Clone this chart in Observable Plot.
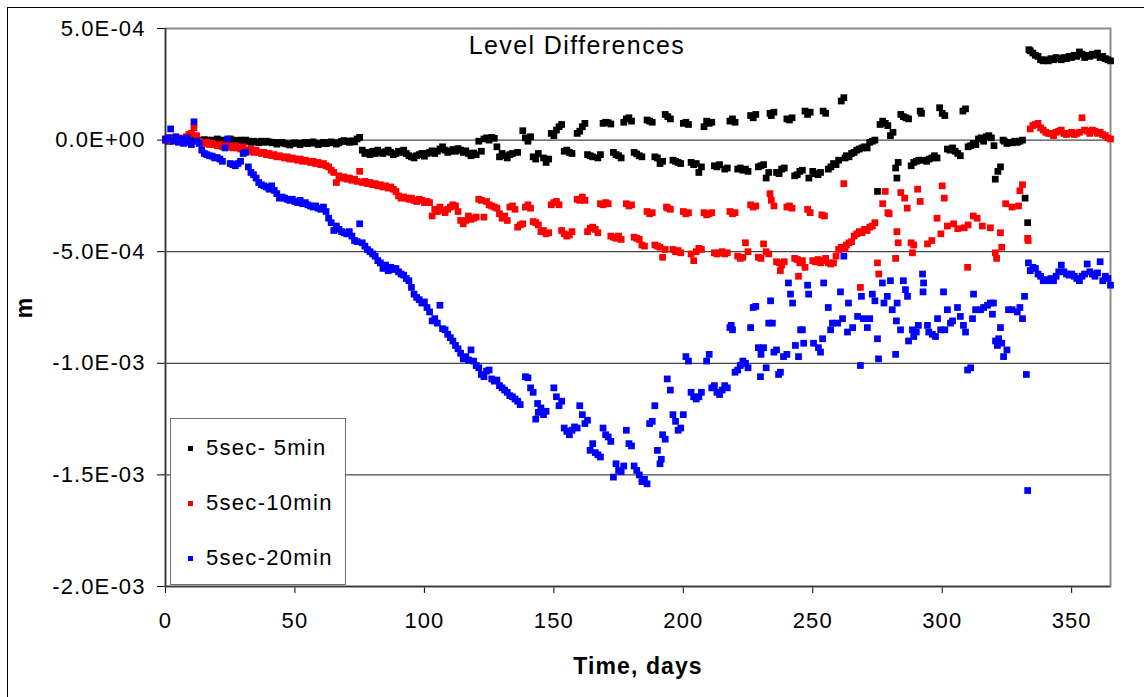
<!DOCTYPE html>
<html><head><meta charset="utf-8">
<script src="https://cdn.jsdelivr.net/npm/d3@7"></script>
<script src="https://cdn.jsdelivr.net/npm/@observablehq/plot@0.6"></script>
<style>
html,body{margin:0;padding:0;background:#fff;overflow:hidden;}
#wrap{position:relative;width:1144px;height:697px;font-family:Arial,"Liberation Sans",sans-serif;color:#000;overflow:hidden;}
#border{position:absolute;left:7px;top:7px;width:1300px;height:900px;border:1.5px solid #000;}
#chart{position:absolute;left:0;top:0;}
#chart svg text{letter-spacing:1.1px;}
#chart g[aria-label="x-axis label"] text,#chart g[aria-label="y-axis label"] text{font-weight:bold;font-size:23px;}
#title{position:absolute;top:33px;left:577px;transform:translateX(-50%);font-size:25px;line-height:25px;letter-spacing:1.4px;white-space:nowrap;}
#legend{position:absolute;left:170px;top:418px;width:176px;height:167px;border:1.5px solid #6e6e6e;background:#fff;box-sizing:border-box;}
.row{position:absolute;left:0;height:30px;display:flex;align-items:center;}
.mk{width:5px;height:5px;margin-left:17px;margin-right:13px;}
.lt{font-size:22px;line-height:30px;letter-spacing:1.3px;white-space:pre;}
</style></head>
<body>
<div id="wrap">
<div id="border"></div>
<div id="chart"></div>
<div id="title"></div>
<div id="legend"></div>
</div>
<script>
// values: [day, level difference in units of 1e-4 m]
const series5min = [
[0,0.05],[1,-0.05],[2,0.1],[3,0],[4,0.05],[5,-0.05],[6,0],[7,0.08],[8,-0.02],[9,0.05],[10,0],[11,0.02],[12,0.05],[13,0],[14,-0.05],[15,0.02],[16,0],[17,-0.05],[18,0],[19,-0.03],[20,0.05],[21,-0.05],[22,0],[23,-0.08],[24,-0.02],[25,0.05],[26,0],[27,-0.05],[28,-0.02],[29,0],[30,-0.08],[31,0],[32,-0.05],[33,-0.1],[34,-0.05],[35,-0.08],[36,-0.12],[37,-0.05],[38,-0.1],[39,-0.05],[40,-0.08],[41,-0.12],[42,-0.1],[43,-0.18],[44,-0.12],[45,-0.1],[46,-0.15],[47,-0.18],[48,-0.22],[49,-0.15],[50,-0.12],[51,-0.15],[52,-0.2],[53,-0.14],[54,-0.1],[55,-0.16],[56,-0.12],[57,-0.08],[58,-0.14],[59,-0.2],[60,-0.15],[61,-0.1],[62,-0.16],[63,-0.12],[64,-0.08],[65,-0.12],[66,-0.18],[67,-0.12],[68,-0.06],[69,-0.02],[70,-0.06],[71,-0.1],[72,-0.03],[73,-0.08],[74,0.05],[75,0.12],
[76,-0.45],[77,-0.6],[78,-0.55],[79,-0.65],[80,-0.5],[81,-0.6],[82,-0.45],[83,-0.55],[84,-0.6],[85,-0.52],[86,-0.45],[87,-0.55],[88,-0.65],[89,-0.6],[90,-0.5],[91,-0.55],[92,-0.45],[93,-0.6],[94,-0.7],[95,-0.75],[96,-0.8],[97,-0.7],[98,-0.65],[99,-0.6],[100,-0.72],[101,-0.6],[102,-0.55],[103,-0.48],[104,-0.6],[105,-0.5],[106,-0.4],[107,-0.3],[108,-0.45],[109,-0.55],[110,-0.5],[111,-0.42],[112,-0.5],[113,-0.38],[114,-0.45],[115,-0.55],[116,-0.48],[117,-0.6],[118,-0.7],[119,-0.58],[120,-0.65],[121,-0.05],[122,-0.5],
[123,0.05],[124,0.1],[125,0.0],[126,0.12],[127,0.08],[128,-0.3],[129,-0.75],[130,-0.6],[131,-0.7],[132,-0.8],[133,-0.65],[134,-0.6],[136,-0.55],[138,0.42],[139,0.1],[140,-0.05],[141,0.15],[142,-0.75],[143,-0.85],[144,-0.6],[146,-0.8],[147,-1.0],[148,-0.85],
[149,0.3],[150,0.2],[151,0.45],[152,0.6],[153,0.7],[154,-0.5],[155,-0.45],[156,-0.55],[157,-0.6],
[159,0.3],[160,0.4],[161,0.6],[162,0.75],[163,-0.65],[164,-0.7],[165,-0.75],[167,-0.8],[168,-0.65],
[169,0.75],[170,0.8],[171,0.78],[172,0.72],[173,-0.55],[174,-0.65],[175,-0.7],[176,-0.8],
[177,0.8],[178,0.95],[179,1.0],[180,0.85],[181,-0.55],[182,-0.62],[183,-0.7],[184,-0.75],
[186,0.9],[187,0.85],[188,0.8],[189,-0.75],[190,-0.8],[191,-1.05],[192,-0.95],
[193,1.15],[194,1.05],[195,0.95],[196,-0.9],[197,-0.95],[198,-1.0],[199,-1.05],
[200,0.75],[201,0.8],[202,0.7],[203,-1.0],[204,-1.1],[205,-1.05],[206,-1.45],[207,-1.2],
[208,0.6],[209,0.85],[210,0.75],[211,0.8],[212,-1.15],[213,-1.2],[214,-1.1],[216,-1.3],[217,-1.25],
[218,0.85],[219,0.95],[220,0.8],[221,-1.3],[222,-1.25],[223,-1.35],[224,-1.3],[225,-1.4],
[226,1.1],[227,1.0],[228,1.15],[229,-1.2],[230,-1.15],[231,-1.1],[232,-1.7],[233,-1.45],
[233.5,1.2],[234,1.1],[235,1.25],[236,-1.45],[237,-1.5],[238,-1.3],[239,-1.25],
[240,0.95],[241,0.9],[242,1.0],[243,-1.6],[244,-1.55],[245,-1.4],[246,-1.35],
[247,1.3],[248,1.15],[249,1.25],[248.5,-1.7],[250,-1.4],[251,-1.5],[252,-1.55],[253,-1.45],
[254,1.3],[255,1.2],[256,-1.3],[257,-1.2],[258,-1.05],[259,-1.1],[260,-0.9],
[261,1.75],[262,1.9],[262.5,-0.8],[263,-0.7],[264,-0.75],[265,-0.6],[266,-0.55],[267,-0.45],[268,-0.4],[269,-0.35],[270,-0.3],[271,-0.35],[272,-0.1],[273,-0.05],[274,0.0],
[275,-2.3],[276,0.7],[277,0.85],[278,0.75],[279,0.65],[280,0.2],[281,0.35],
[282,-1.25],[282.5,-1.7],[283,-1.0],[284,1.15],[285,1.05],[286,1.0],[287,0.95],
[288,-1.15],[289,-1.0],[290,-0.95],[291,-0.9],[291.5,1.3],[292,1.2],
[293,-0.9],[294,-0.95],[295,-0.85],[296,-0.8],[297,-0.7],[298,-0.8],
[299,1.45],[300,1.2],[301,1.1],[302,-0.4],[303,-0.45],[304,-0.35],[305,-0.5],[306,-0.6],[307,-0.7],
[308,1.3],[309,1.4],[310,-0.3],[311,-0.25],[312,-0.15],[313,-0.2],[314,0.05],[315,0.1],[316,-0.05],[317,0.15],[318,0.2],[319,0.1],[320,-0.25],[320.5,-1.75],[321.5,-1.4],[322.5,-1.2],[323.5,0.0],[324,-0.05],[325,-0.15],[326,-0.1],[327,-0.12],[328,-0.05],[329,-0.1],[330,-0.05],[331,0.0],
[332,-2.6],[333,-3.7],
[333.5,4.05],[334,4.0],[335,3.9],[336,3.8],[337,3.75],[338,3.6],[339,3.55],[340,3.6],[341,3.55],[342,3.65],[343,3.6],[344,3.7],[345,3.65],[346,3.6],[347,3.7],[348,3.65],[349,3.75],[350,3.7],[351,3.8],[352,3.75],[353,3.95],[354,3.85],[355,3.7],[356,3.8],[357,3.75],[358,3.85],[359,3.8],[360,3.9],[361,3.7],[362,3.75],[363,3.65],[364,3.6],[365,3.55]
];
const series10min = [
[0,0.0],[1,0.1],[2,-0.05],[3,0.05],[4,0.0],[5,0.1],[6,0.05],[7,-0.05],[8,0.15],[9,0.25],[10,0.3],[11,0.55],[12,0.2],[13,-0.05],
[14,-0.1],[15,-0.15],[16,-0.1],[17,-0.2],[18,-0.15],[19,-0.2],[20,-0.25],[21,-0.2],[22,-0.3],[23,-0.25],[24,-0.2],[25,-0.3],[26,-0.35],[27,-0.25],[28,-0.35],[29,-0.4],[30,-0.3],[31,-0.45],[32,-0.5],[33,-0.4],[34,-0.55],[35,-0.45],[36,-0.55],[37,-0.6],[38,-0.55],[39,-0.65],[40,-0.6],[41,-0.7],[42,-0.65],[43,-0.75],[44,-0.7],[45,-0.75],[46,-0.8],[47,-0.75],[48,-0.85],[49,-0.8],[50,-0.85],[51,-0.9],[52,-0.85],[53,-0.95],[54,-0.9],[55,-0.95],[56,-1.0],[57,-0.95],[58,-1.05],[59,-1.0],[60,-1.1],[61,-1.05],[62,-1.15],[63,-1.2],[64,-1.35],[65,-1.45],[66,-1.9],[67,-1.6],[68,-1.7],[69,-1.65],[70,-1.75],[71,-1.7],[72,-1.8],[73,-1.75],[74,-1.85],[75,-1.4],[76,-1.9],[77,-1.85],[78,-1.95],[79,-1.9],[80,-2.0],[81,-1.95],[82,-2.05],[83,-2.0],[84,-2.1],[85,-2.05],[86,-2.15],[87,-2.1],[88,-2.2],[89,-2.3],[90,-2.5],[91,-2.6],[92,-2.55],[93,-2.6],[94,-2.65],[95,-2.6],[96,-2.7],[97,-2.75],[98,-2.65],[99,-2.7],[100,-2.8],[101,-2.75],[102,-2.8],[103,-3.4],[104,-3.1],[105,-3.2],[106,-3.0],[107,-3.15],[108,-3.25],[109,-3.1],[110,-3.0],[111,-2.9],[112,-2.95],[113,-3.2],[114,-3.6],[115,-3.75],[116,-3.6],[117,-3.4],[118,-3.55],[119,-3.5],[120,-3.45],[121,-2.65],[122,-2.7],[123,-3.45],
[124,-2.75],[125,-2.9],[126,-2.95],[127,-3.0],[128,-3.05],[129,-3.3],[130,-3.5],[131,-3.4],[132,-3.6],
[133,-3.0],[134,-2.95],[135,-3.1],[136,-3.9],[137,-3.8],[138,-3.75],[139,-3.0],[140,-2.9],[141,-3.05],
[142,-3.65],[143,-3.7],[144,-3.8],[145,-4.1],[146,-4.05],[147,-4.2],[148,-4.15],
[149,-2.9],[150,-2.8],[151,-2.75],[152,-2.9],[153,-4.05],[154,-4.2],[155,-4.3],[156,-4.25],[157,-4.1],
[159,-2.65],[160,-2.7],[161,-2.55],[162,-2.7],[163,-4.1],[164,-3.95],[165,-3.9],[166,-4.0],[167,-4.15],
[168,-2.85],[169,-2.9],[170,-2.8],[171,-2.85],[172,-4.3],[173,-4.35],[174,-4.4],[175,-4.3],[176,-4.45],
[178,-2.85],[179,-2.95],[180,-2.9],[181,-4.35],[182,-4.4],[183,-4.45],[184,-4.7],[185,-4.75],
[186,-3.2],[187,-3.3],[188,-3.25],[189,-4.7],[190,-4.75],[191,-4.8],[192,-5.25],[193,-4.9],
[193.5,-3.0],[194,-3.05],[195,-3.1],[196,-4.9],[197,-5.0],[198,-4.95],[199,-5.05],
[200,-3.2],[201,-3.3],[202,-3.25],[203,-5.1],[204,-5.4],[205,-5.0],[206,-4.85],[207,-4.9],
[208,-3.25],[209,-3.35],[210,-3.3],[211,-3.25],[212,-5.05],[213,-5.1],[214,-5.05],[215,-5.0],[216,-5.1],[217,-5.05],
[218,-3.2],[219,-3.3],[220,-3.25],[221,-5.2],[222,-5.3],[223,-5.25],[224,-4.6],[225,-5.0],
[226,-2.9],[227,-3.0],[228,-2.95],[229,-5.25],[230,-5.3],[231,-4.65],[232,-5.0],[233,-5.1],
[233.5,-2.4],[234,-2.7],[235,-2.95],[236,-5.45],[237,-5.5],[237.5,-5.85],[238,-5.6],[239,-5.45],
[240,-3.0],[241,-2.95],[242,-3.05],[243,-5.3],[244,-5.35],[244.5,-6.1],[245,-5.5],[246,-5.4],[247,-5.7],
[248,-3.1],[249,-3.25],[250,-5.4],[251,-5.45],[252,-5.35],[253,-5.5],[253.5,-3.35],[254.5,-3.4],[254,-5.4],[255,-5.3],[256,-5.5],[257,-5.55],[258,-5.5],[259,-5.2],[260,-4.9],[261,-4.8],[262,-1.95],[262.5,-4.85],[263,-4.7],[264,-4.6],[265,-4.55],[266,-4.3],[267,-4.2],[268,-4.1],[268.4,-6.6],[269,-4.15],[270,-4.0],[271,-4.05],[272,-3.9],[273,-3.85],[274,-3.7],
[275,-5.5],[275.5,-6.0],[277,-2.85],[278,-2.3],[279,-3.25],[279.5,-3.3],[282,-5.3],[282.5,-4.1],[283,-4.6],[284,-2.35],[285.5,-2.6],[286.5,-3.05],[288,-4.6],[288.5,-5.05],[289,-4.7],[290.5,-2.2],[291.5,-2.75],[294.3,-4.65],[296,-4.5],[298,-3.5],[299.5,-4.2],[300,-2.05],[300.8,-2.6],[302,-3.85],[304.4,-3.75],[306,-3.97],[308.5,-3.93],[309.8,-5.7],[310,-3.8],[312,-3.4],[313.5,-3.5],[315.5,-3.85],[318.6,-3.93],[320.5,-5.05],[321,-5.3],[322.5,-4.15],[323,-4.8],[324.5,-2.85],[327,-3.0],[329.5,-2.95],[330,-2.27],[331,-2.0],[333,-4.4],[333.2,-4.5],
[334,0.5],[335,0.65],[336,0.7],[337,0.75],[338,0.55],[339,0.45],[340,0.35],[341,0.3],[342,0.3],[343,0.2],[344,0.35],[345,0.4],[346,0.45],[347,0.3],[348,0.25],[349,0.3],[350,0.35],[351,0.25],[352,0.3],[353,0.35],[354,1.0],[355,0.45],[356,0.4],[357,0.3],[358,0.45],[359,0.4],[360,0.3],[361,0.35],[362,0.25],[363,0.2],[364,0.1],[365,0.05]
];
const series20min = [
[0,0.0],[1,0.1],[2,0.5],[3,-0.05],[4,0.15],[5,-0.1],[6,0.05],[7,-0.15],[8,0.05],[8.5,0.1],[9,-0.1],[10,-0.2],[11,0.82],[12,-0.05],[13,-0.15],[14,-0.45],[15,-0.6],
[16,-0.65],[17,-0.7],[18,-0.72],[19,-0.8],[20,-0.78],[21,-0.85],[22,-0.95],[23,-0.35],[24,0.05],[25,-1.05],[26,-1.1],[27,-1.15],[28,-1.05],[29,-0.95],[30,-0.6],[31,-0.55],[32,-1.2],[33,-1.45],[34,-1.55],[35,-1.7],[36,-1.9],[37,-2.0],[38,-2.05],[39,-2.1],[40,-2.2],[41,-2.05],[42,-2.25],[43,-2.4],[44,-2.6],[45,-2.55],[46,-2.6],[47,-2.65],[48,-2.7],[49,-2.65],[50,-2.75],[51,-2.8],[52,-2.7],[53,-2.85],[54,-2.8],[55,-2.9],[56,-2.95],[57,-3.0],[58,-2.95],[59,-3.05],[60,-3.1],[61,-3.0],[62,-3.2],[63,-3.5],[64,-3.7],[65,-4.05],[66,-3.85],[67,-4.0],[68,-4.1],[69,-4.15],[70,-4.2],[71,-4.1],[72,-4.3],[73,-4.5],[74,-4.55],[75,-3.75],[76,-4.6],[77,-4.75],[78,-4.9],[79,-5.0],[80,-5.1],[81,-5.2],[82,-5.4],[83,-5.5],[84,-5.75],[85,-5.6],[86,-5.85],[87,-5.7],[88,-5.8],[89,-5.75],[90,-5.9],[91,-6.0],[92,-6.05],[93,-6.2],[94,-6.3],[95,-6.6],[96,-6.9],[97,-7.05],[98,-7.15],[99,-7.3],[100,-7.25],[101,-7.5],[102,-7.7],[103,-8.1],[104,-8.0],[105,-8.2],[106,-7.4],[107,-8.45],[108,-8.5],[109,-8.7],[110,-8.85],[111,-9.0],[112,-9.2],[113,-9.35],[114,-9.55],[115,-9.8],[116,-9.7],[117,-9.85],[118,-9.4],[119,-9.9],[120,-10.1],[121,-10.2],[122,-10.5],[123,-10.6],[124,-10.35],[125,-10.3],[126,-10.7],[127,-10.8],[128,-10.75],[129,-11.0],[130,-11.1],[131,-11.2],[132,-11.3],[133,-11.45],[134,-11.5],[135,-11.6],[136,-11.7],[137,-11.85],
[139,-10.6],[140,-10.65],[141,-11.1],[142,-11.3],[143,-12.5],[143.7,-11.8],[144,-12.2],[145,-12.0],[146,-12.3],[147,-12.15],[150,-11.1],[151,-11.5],[152,-11.9],[153,-11.7],[154,-12.9],[155,-13.05],[156,-13.2],[157,-13.0],[158,-12.85],[159,-12.9],[160,-11.9],[161,-12.3],[162,-12.7],[163,-12.55],[164,-13.9],[165,-13.6],[166,-14.0],[167,-14.1],[168,-14.2],[169,-12.9],[170,-13.2],[171,-13.3],[172,-13.5],[173,-15.1],[174,-14.5],[175,-14.8],[176,-14.85],[177,-14.6],[178,-13.0],[179,-13.6],[180,-13.7],[181,-14.6],[182,-14.8],[183,-15.0],[184,-15.3],[185,-15.2],[186,-15.4],[187,-12.7],[188,-12.6],[189,-11.9],[190,-13.9],[191,-14.5],[191.5,-14.3],[192,-13.2],[193,-13.4],[193.8,-10.7],[195,-11.2],[196,-12.3],[197,-12.6],[198,-13.0],[199,-12.9],[200,-12.3],
[201,-9.7],[202,-9.9],[203,-11.3],[204,-11.5],[205,-11.6],[206,-11.5],[207,-11.3],[209,-9.9],[210,-9.6],[211,-11.1],[212,-11.0],[213,-11.3],[214,-11.4],[215,-11.2],[216,-11.0],[217,-11.1],[218,-8.4],[218.5,-8.3],[219,-8.5],[220,-10.4],[221,-10.3],[222,-10.1],[223,-9.9],[224,-10.0],[225,-10.2],[226,-8.4],[227,-7.5],[228,-7.45],[229,-9.3],[229.8,-10.6],[230,-9.6],[231,-9.3],[232,-10.2],[233,-8.2],[233.7,-7.2],[234.4,-8.2],[235,-9.5],[236,-9.4],[236.8,-10.5],[237.5,-10.4],[238.7,-9.7],[240,-9.6],[240.6,-6.4],[241.4,-6.9],[242.2,-7.3],[243.3,-9.2],[244.5,-9.7],[245.3,-8.5],[246,-8.5],[246.5,-9.1],[248,-6.5],[248.4,-6.9],[250.3,-9.1],[252.2,-9.3],[253,-9.5],[253.8,-8.9],[254.2,-6.4],[256,-7.5],[256.9,-8.5],[257.6,-8.2],[259.6,-8.2],[260.7,-6.8],[261.5,-8.0],[262,-5.2],[263.4,-8.6],[263.8,-7.3],[265.4,-8.4],[267.3,-7.9],[268.4,-10.1],[268.8,-7.0],[269.6,-8.0],[271.1,-8.4],[272,-8.0],[273,-6.9],[274,-7.2],[275,-8.9],[275.4,-9.8],[276.9,-6.4],[277.5,-7.3],[278.8,-7.0],[280,-6.3],[280.7,-7.6],[282,-9.6],[282.3,-8.1],[282.6,-7.3],[283.9,-8.5],[285,-6.3],[285.8,-6.7],[286.6,-7.0],[287,-9.0],[288.5,-8.5],[289,-8.8],[290,-8.6],[290.8,-8.3],[292.4,-6.0],[292.6,-6.8],[292.8,-6.4],[294.3,-8.3],[294.8,-8.6],[296.2,-8.7],[297.4,-8.8],[298.2,-8.0],[299.4,-8.5],[300.5,-6.8],[301,-8.5],[302,-7.6],[303.2,-8.2],[304,-8.1],[305.9,-7.5],[307,-7.9],[308.2,-8.3],[309,-8.6],[309.8,-10.3],[311,-10.2],[311.7,-8.0],[312.1,-6.9],[312.9,-7.6],[314.8,-7.6],[316,-7.5],[317.5,-7.4],[318.6,-7.3],[319.4,-7.8],[319.8,-7.3],[320.6,-9.0],[321.3,-9.2],[321.8,-8.9],[322.5,-8.4],[323,-9.1],[323.7,-9.7],[325,-9.4],[325.6,-7.6],[327,-7.6],[329,-7.7],[330,-7.5],[331,-8.0],[331.8,-7.0],[332.5,-10.5],[333,-15.7],[333.3,-5.5],
[334,-5.85],[335,-5.7],[336,-5.75],[337,-6.0],[338,-6.1],[339,-6.3],[340,-6.25],[341,-6.3],[342,-6.2],[343,-6.3],[344,-6.1],[345,-5.9],[346,-5.6],[347,-5.9],[348,-6.0],[349,-6.05],[350,-6.0],[351,-6.1],[352,-6.2],[353,-6.3],[354,-6.1],[355,-6.0],[356,-5.55],[357,-5.9],[358,-6.0],[359,-6.1],[360,-5.95],[361,-5.45],[362,-6.3],[363,-6.1],[364,-6.2],[365,-6.5]
];
const seriesNames = ["5sec- 5min", "5sec-10min", "5sec-20min"];
const seriesColors = ["#000000", "#ff0000", "#0000ff"];
const xTicks = [0, 50, 100, 150, 200, 250, 300, 350];
const xDomain = [0, 365];
const yTicks = [5e-4, 0, -5e-4, -1e-3, -1.5e-3, -2e-3];
const titleText = "Level Differences";
const xLabel = "Time, days";
const yLabel = "m";
const unit = 1e-4;

const allSeries = [series5min, series10min, series20min];
const tables = allSeries.map((s, i) => s.map(([day, v]) => ({day, value: v * unit, series: seriesNames[i]})));

function sci(d) {
  if (d === 0) return "0.0E+00";
  const e = Math.floor(Math.log10(Math.abs(d)) + 1e-9);
  const m = d / Math.pow(10, e);
  return m.toFixed(1) + "E" + (e < 0 ? "-" : "+") + String(Math.abs(e)).padStart(2, "0");
}

const yMin = d3.min(yTicks), yMax = d3.max(yTicks);
const innerTicks = yTicks.filter(t => t > yMin && t < yMax);

const chart = Plot.plot({
  width: 1144,
  height: 697,
  marginLeft: 165,
  marginRight: 34,
  marginTop: 28,
  marginBottom: 111,
  style: {fontFamily: "Arial, 'Liberation Sans', sans-serif", fontSize: "22px", color: "#000", background: "transparent", overflow: "visible"},
  x: {domain: xDomain, ticks: xTicks, tickSize: 7, tickPadding: 19, label: xLabel, labelAnchor: "center", labelOffset: 87, labelArrow: "none"},
  y: {domain: [yMin, yMax], ticks: yTicks, tickFormat: sci, tickSize: 8, tickPadding: 12, label: yLabel, labelAnchor: "center", labelOffset: 150, labelArrow: "none"},
  marks: [
    Plot.ruleY(innerTicks, {stroke: "#1a1a1a", strokeWidth: 1}),
    Plot.frame({stroke: "#8a8a8a", strokeWidth: 2}),
    Plot.ruleX([xDomain[0]], {stroke: "#3a3a3a", strokeWidth: 1.5}),
    Plot.ruleY([yMin], {stroke: "#3a3a3a", strokeWidth: 1.5}),
    ...tables.map((t, i) => Plot.dot(t, {x: "day", y: "value", symbol: "square", r: 3.8, fill: seriesColors[i], stroke: "none"}))
  ]
});
document.getElementById("chart").appendChild(chart);
document.getElementById("title").textContent = titleText;

const legend = document.getElementById("legend");
seriesNames.forEach((name, i) => {
  const row = document.createElement("div");
  row.className = "row";
  row.style.top = (14 + i * 55) + "px";
  const mk = document.createElement("span");
  mk.className = "mk";
  mk.style.background = seriesColors[i];
  const lt = document.createElement("span");
  lt.className = "lt";
  lt.textContent = name;
  row.appendChild(mk); row.appendChild(lt);
  legend.appendChild(row);
});
</script>
</body></html>
